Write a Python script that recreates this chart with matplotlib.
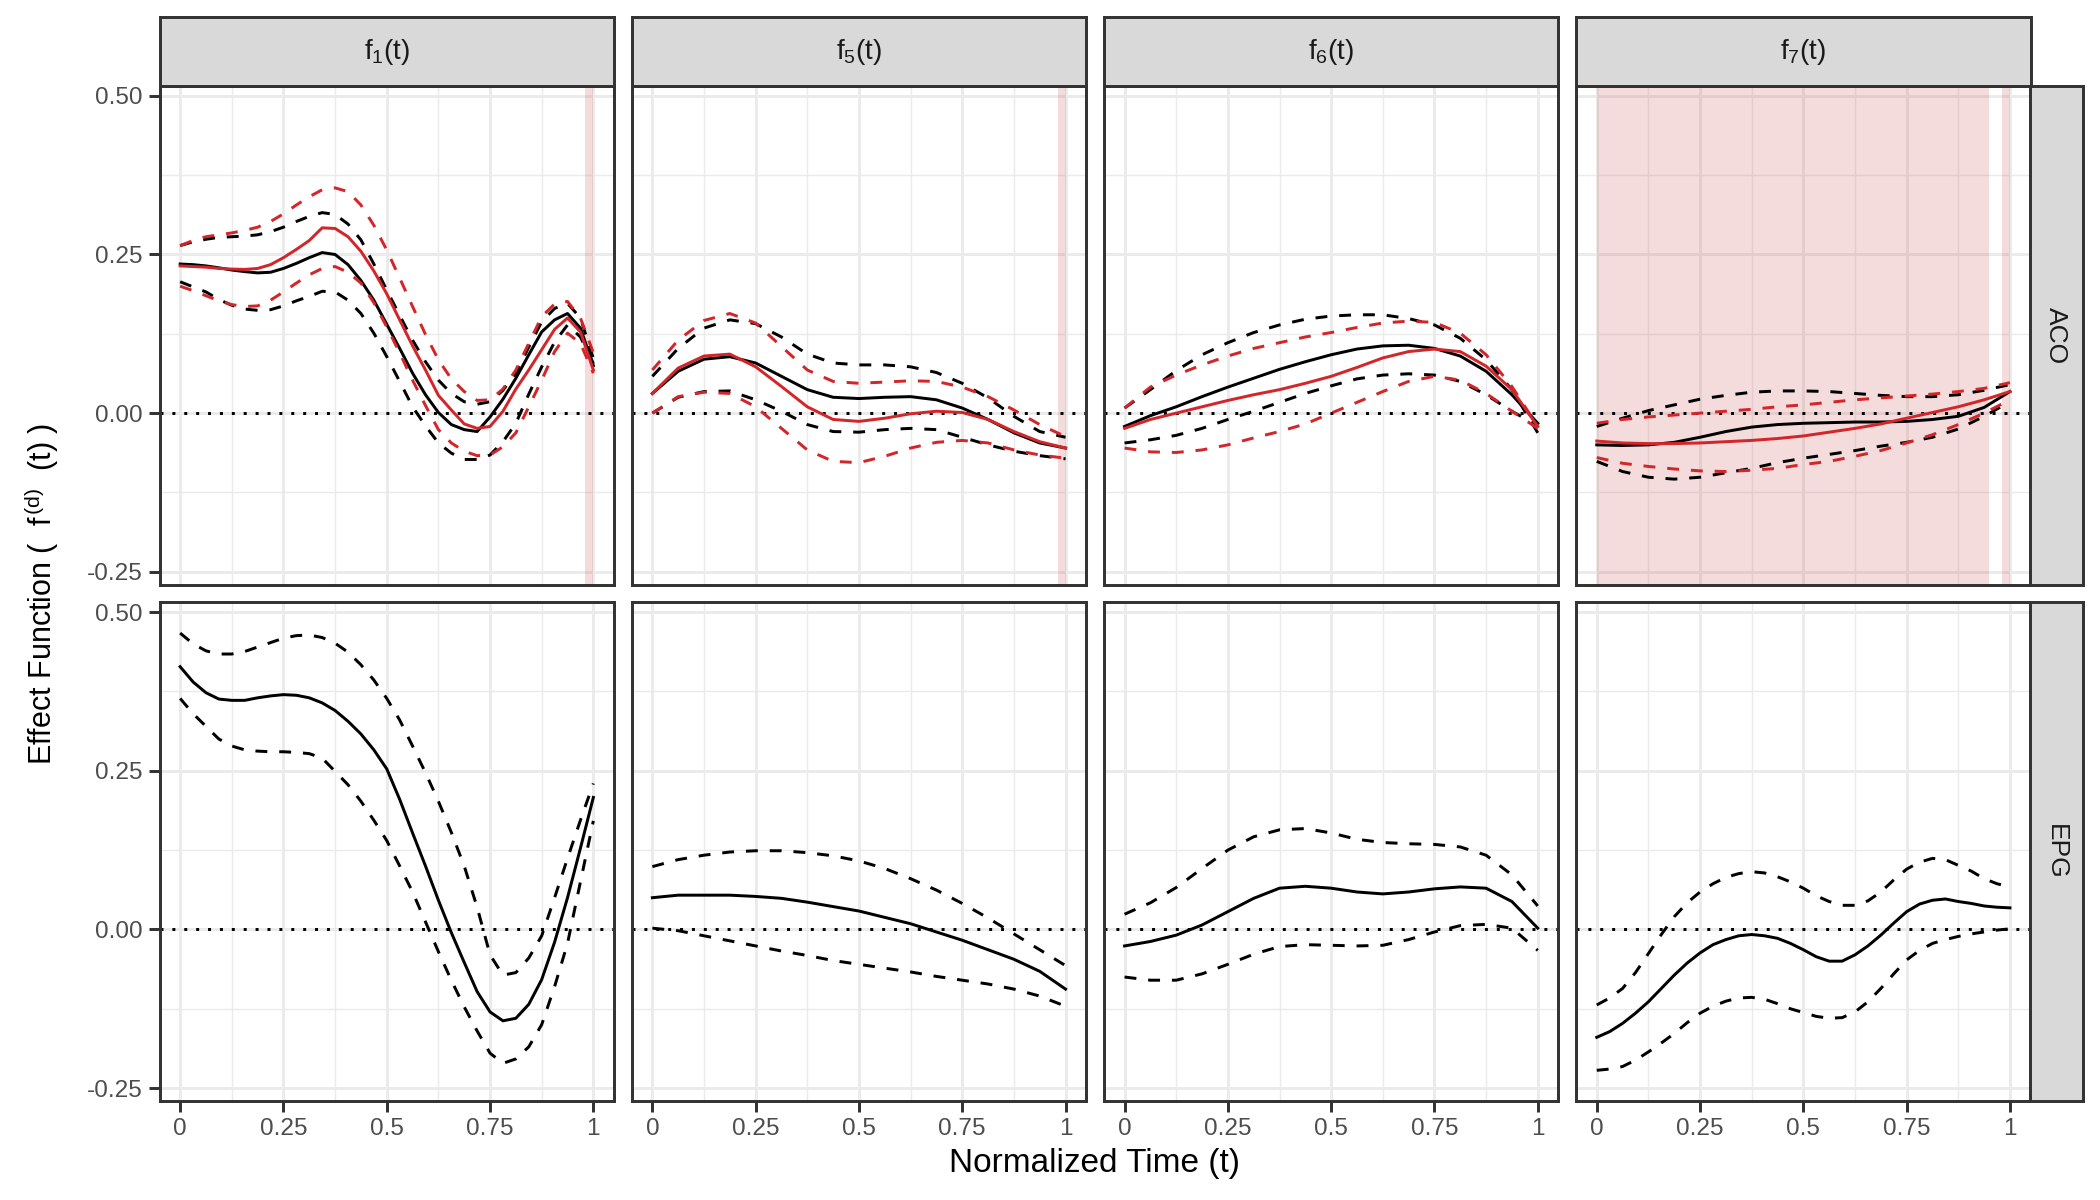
import matplotlib
matplotlib.use("Agg")
import matplotlib.pyplot as plt
import numpy as np

plt.rcParams['font.family'] = ['Liberation Sans', 'DejaVu Sans']
plt.rcParams['mathtext.fontset'] = 'custom'
plt.rcParams['mathtext.rm'] = 'Liberation Sans'
plt.rcParams['mathtext.it'] = 'Liberation Sans'

effects = ['f1', 'f5', 'f6', 'f7']
strip_labels = [r'$\mathregular{f_{1}(t)}$', r'$\mathregular{f_{5}(t)}$',
                r'$\mathregular{f_{6}(t)}$', r'$\mathregular{f_{7}(t)}$']
groups = ['ACO', 'EPG']

# curves are read on an even grid over t in [0, 1]
# (33 points for the wavy f1 / EPG f7 panels, 17 points elsewhere)

# ---- ACO row: black estimate and band, red estimate and band ----
aco_black = {
    'f1': [0.235, 0.234, 0.232, 0.229, 0.2255, 0.223, 0.221, 0.222, 0.228, 0.236, 0.245,
           0.253, 0.250, 0.234, 0.209, 0.178, 0.140, 0.102, 0.063, 0.029, 0.001, -0.018,
           -0.026, -0.029, -0.006, 0.022, 0.055, 0.092, 0.128, 0.147, 0.157, 0.134, 0.075],
    'f5': [0.031, 0.066, 0.085, 0.089, 0.079, 0.058, 0.037, 0.025, 0.023, 0.025, 0.026,
           0.021, 0.008, -0.010, -0.031, -0.047, -0.055],
    'f6': [-0.021, -0.004, 0.010, 0.026, 0.041, 0.055, 0.069, 0.081, 0.092, 0.101, 0.106,
           0.107, 0.102, 0.090, 0.066, 0.029, -0.016],
    'f7': [-0.050, -0.051, -0.050, -0.046, -0.038, -0.029, -0.022, -0.018, -0.016, -0.015,
           -0.014, -0.014, -0.013, -0.010, -0.005, 0.009, 0.034],
}
aco_black_hi = {
    'f1': [0.264, 0.270, 0.274, 0.277, 0.278, 0.279, 0.281, 0.286, 0.293, 0.302, 0.310,
           0.316, 0.313, 0.298, 0.273, 0.235, 0.194, 0.154, 0.115, 0.081, 0.052, 0.031,
           0.018, 0.014, 0.018, 0.036, 0.063, 0.104, 0.144, 0.165, 0.173, 0.150, 0.086],
    'f5': [0.058, 0.102, 0.134, 0.147, 0.141, 0.120, 0.093, 0.079, 0.076, 0.076, 0.073,
           0.064, 0.047, 0.024, -0.005, -0.029, -0.038],
    'f6': [0.008, 0.037, 0.067, 0.092, 0.111, 0.127, 0.139, 0.148, 0.153, 0.155, 0.155,
           0.149, 0.139, 0.118, 0.084, 0.037, -0.031],
    'f7': [-0.021, -0.008, 0.004, 0.013, 0.022, 0.028, 0.033, 0.035, 0.035, 0.034, 0.031,
           0.028, 0.026, 0.026, 0.029, 0.036, 0.045],
}
aco_black_lo = {
    'f1': [0.207, 0.199, 0.191, 0.179, 0.170, 0.164, 0.162, 0.163, 0.169, 0.177, 0.184,
           0.192, 0.191, 0.178, 0.157, 0.126, 0.089, 0.050, 0.010, -0.020, -0.047, -0.063,
           -0.073, -0.073, -0.066, -0.045, -0.016, 0.030, 0.073, 0.112, 0.139, 0.120, 0.078],
    'f5': [0.000, 0.025, 0.034, 0.035, 0.021, 0.003, -0.018, -0.029, -0.030, -0.026, -0.024,
           -0.026, -0.038, -0.050, -0.060, -0.067, -0.072],
    'f6': [-0.047, -0.042, -0.035, -0.024, -0.010, 0.003, 0.017, 0.031, 0.043, 0.054, 0.060,
           0.062, 0.060, 0.050, 0.029, 0.003, -0.020],
    'f7': [-0.076, -0.092, -0.101, -0.104, -0.101, -0.094, -0.087, -0.078, -0.071, -0.065,
           -0.059, -0.052, -0.046, -0.038, -0.025, -0.005, 0.018],
}
aco_red = {
    'f1': [0.232, 0.231, 0.230, 0.228, 0.227, 0.2265, 0.228, 0.234, 0.245, 0.258, 0.272,
           0.292, 0.291, 0.278, 0.255, 0.224, 0.188, 0.147, 0.106, 0.068, 0.028, 0.005,
           -0.017, -0.024, -0.021, 0.003, 0.038, 0.068, 0.100, 0.132, 0.150, 0.128, 0.068],
    'f5': [0.031, 0.071, 0.090, 0.093, 0.073, 0.042, 0.010, -0.010, -0.013, -0.008, -0.001,
           0.003, 0.001, -0.010, -0.029, -0.045, -0.055],
    'f6': [-0.024, -0.010, 0.000, 0.010, 0.020, 0.029, 0.037, 0.047, 0.058, 0.072, 0.087,
           0.097, 0.101, 0.097, 0.074, 0.037, -0.021],
    'f7': [-0.044, -0.047, -0.048, -0.048, -0.047, -0.045, -0.043, -0.040, -0.036, -0.030,
           -0.024, -0.017, -0.008, 0.001, 0.010, 0.021, 0.034],
}
aco_red_hi = {
    'f1': [0.264, 0.272, 0.278, 0.281, 0.284, 0.288, 0.293, 0.302, 0.314, 0.328, 0.341,
           0.352, 0.355, 0.349, 0.328, 0.296, 0.257, 0.213, 0.168, 0.124, 0.084, 0.054,
           0.034, 0.020, 0.021, 0.038, 0.068, 0.110, 0.152, 0.172, 0.176, 0.150, 0.095],
    'f5': [0.068, 0.115, 0.146, 0.157, 0.142, 0.105, 0.068, 0.050, 0.047, 0.049, 0.051,
           0.050, 0.041, 0.026, 0.005, -0.018, -0.037],
    'f6': [0.008, 0.041, 0.060, 0.076, 0.090, 0.102, 0.111, 0.120, 0.127, 0.135, 0.142,
           0.145, 0.143, 0.126, 0.092, 0.042, -0.021],
    'f7': [-0.016, -0.010, -0.006, -0.003, 0.000, 0.003, 0.006, 0.010, 0.013, 0.017, 0.021,
           0.024, 0.027, 0.030, 0.034, 0.039, 0.048],
}
aco_red_lo = {
    'f1': [0.200, 0.193, 0.185, 0.177, 0.171, 0.168, 0.169, 0.178, 0.191, 0.205, 0.218,
           0.228, 0.231, 0.222, 0.205, 0.174, 0.136, 0.095, 0.052, 0.012, -0.026, -0.047,
           -0.060, -0.067, -0.066, -0.053, -0.031, 0.010, 0.052, 0.097, 0.126, 0.110, 0.063],
    'f5': [0.000, 0.026, 0.033, 0.031, 0.010, -0.024, -0.058, -0.076, -0.078, -0.068, -0.055,
           -0.046, -0.043, -0.047, -0.058, -0.066, -0.071],
    'f6': [-0.055, -0.061, -0.062, -0.058, -0.050, -0.039, -0.029, -0.017, 0.000, 0.017, 0.034,
           0.050, 0.058, 0.052, 0.031, 0.003, -0.024],
    'f7': [-0.070, -0.079, -0.084, -0.088, -0.091, -0.092, -0.090, -0.087, -0.081, -0.076,
           -0.068, -0.059, -0.047, -0.034, -0.018, 0.000, 0.021],
}

# ---- EPG row: black estimate and band ----
epg_est = {
    'f1': [0.414, 0.390, 0.373, 0.363, 0.361, 0.361, 0.365, 0.368, 0.370, 0.369, 0.365,
           0.357, 0.345, 0.328, 0.308, 0.283, 0.253, 0.205, 0.152, 0.100, 0.046, -0.005,
           -0.052, -0.098, -0.130, -0.144, -0.140, -0.118, -0.079, -0.020, 0.050, 0.128, 0.208],
    'f5': [0.050, 0.054, 0.054, 0.054, 0.052, 0.049, 0.043, 0.036, 0.029, 0.019, 0.009,
           -0.004, -0.017, -0.032, -0.047, -0.066, -0.094],
    'f6': [-0.026, -0.019, -0.009, 0.007, 0.028, 0.049, 0.065, 0.068, 0.065, 0.059, 0.056,
           0.059, 0.064, 0.067, 0.065, 0.044, 0.002],
    'f7': [-0.170, -0.161, -0.148, -0.132, -0.114, -0.093, -0.072, -0.053, -0.037, -0.024,
           -0.016, -0.010, -0.008, -0.010, -0.014, -0.022, -0.032, -0.043, -0.050, -0.050,
           -0.040, -0.026, -0.009, 0.010, 0.028, 0.040, 0.046, 0.048, 0.044, 0.041, 0.037,
           0.035, 0.034],
}
epg_hi = {
    'f1': [0.467, 0.450, 0.439, 0.434, 0.434, 0.438, 0.445, 0.452, 0.459, 0.463, 0.464,
           0.460, 0.451, 0.437, 0.417, 0.393, 0.364, 0.330, 0.289, 0.247, 0.202, 0.153,
           0.100, 0.035, -0.040, -0.072, -0.068, -0.045, -0.010, 0.050, 0.112, 0.172, 0.230],
    'f5': [0.099, 0.110, 0.117, 0.122, 0.124, 0.124, 0.121, 0.116, 0.108, 0.096, 0.080,
           0.062, 0.041, 0.018, -0.007, -0.032, -0.057],
    'f6': [0.024, 0.042, 0.066, 0.096, 0.125, 0.146, 0.157, 0.159, 0.152, 0.142, 0.137,
           0.135, 0.134, 0.130, 0.117, 0.086, 0.037],
    'f7': [-0.119, -0.108, -0.093, -0.068, -0.038, -0.008, 0.020, 0.042, 0.059, 0.072,
           0.082, 0.088, 0.091, 0.089, 0.083, 0.075, 0.065, 0.053, 0.044, 0.038, 0.038,
           0.045, 0.059, 0.078, 0.095, 0.106, 0.112, 0.110, 0.101, 0.092, 0.080, 0.072,
           0.067],
}
epg_lo = {
    'f1': [0.364, 0.340, 0.320, 0.300, 0.289, 0.283, 0.281, 0.280, 0.280, 0.279, 0.277,
           0.270, 0.249, 0.228, 0.202, 0.172, 0.140, 0.100, 0.059, 0.012, -0.035, -0.080,
           -0.122, -0.160, -0.195, -0.211, -0.204, -0.185, -0.150, -0.090, -0.022, 0.075, 0.171],
    'f5': [0.002, -0.002, -0.010, -0.018, -0.026, -0.034, -0.041, -0.049, -0.055, -0.061,
           -0.067, -0.074, -0.080, -0.086, -0.094, -0.105, -0.121],
    'f6': [-0.075, -0.080, -0.080, -0.070, -0.055, -0.039, -0.027, -0.024, -0.025, -0.026,
           -0.025, -0.016, -0.004, 0.006, 0.008, 0.002, -0.033],
    'f7': [-0.222, -0.220, -0.216, -0.206, -0.193, -0.179, -0.164, -0.147, -0.132, -0.121,
           -0.113, -0.108, -0.107, -0.110, -0.117, -0.125, -0.131, -0.137, -0.140, -0.139,
           -0.130, -0.114, -0.093, -0.070, -0.048, -0.033, -0.022, -0.016, -0.011, -0.007,
           -0.004, -0.001, 0.001],
}

# highlighted time intervals (ACO row)
shaded = {
    'f1': [(0.980, 1.000)],
    'f5': [(0.982, 1.000)],
    'f6': [],
    'f7': [(0.000, 0.949), (0.980, 0.9995)],
}

RED = '#D3262A'
BORDER = '#333333'
GRID = '#EBEBEB'
TICKTXT = '#4D4D4D'
LW = 1.07
DASH = (0, (4, 4))


def draw(ax, vals, color, dashed, z):
    tt = np.linspace(0, 1, len(vals))
    ax.plot(tt, vals, color=color, lw=LW, ls=DASH if dashed else '-', zorder=z,
            solid_joinstyle='round', dash_joinstyle='round')


fig = plt.figure(figsize=(10.5, 6), dpi=200)

left0, pw, gap = 159.5 / 2100, 454.5 / 2100, 17.7 / 2100
row_bottom = [0.51267, 0.08242]
ph = 0.4155

for r, grp in enumerate(groups):
    for c, eff in enumerate(effects):
        x0 = left0 + c * (pw + gap)
        ax = fig.add_axes([x0, row_bottom[r], pw, ph])
        ax.set_xlim(-0.05, 1.05)
        ax.set_ylim(-0.2705, 0.5152)
        ax.set_xticks([0, 0.25, 0.5, 0.75, 1])
        ax.set_yticks([-0.25, 0, 0.25, 0.5])
        ax.set_xticks([0.125, 0.375, 0.625, 0.875], minor=True)
        ax.set_yticks([-0.125, 0.125, 0.375], minor=True)
        ax.grid(True, which='major', color=GRID, lw=LW)
        ax.grid(True, which='minor', color=GRID, lw=LW / 2)
        ax.set_axisbelow(True)
        ax.tick_params(which='minor', length=0)
        ax.tick_params(which='major', length=3.9, width=LW, color=BORDER,
                       labelsize=8.8, labelcolor=TICKTXT, pad=2.2)
        for s in ax.spines.values():
            s.set_color(BORDER)
            s.set_linewidth(LW)

        if r == 1:
            ax.set_xticklabels(['0', '0.25', '0.5', '0.75', '1'])
        else:
            ax.tick_params(axis='x', length=0, labelbottom=False)
        if c == 0:
            ax.set_yticklabels(['-0.25', '0.00', '0.25', '0.50'])
        else:
            ax.tick_params(axis='y', length=0, labelleft=False)

        ax.axhline(0, color='black', lw=LW, ls=(0, (1, 3)), zorder=2)

        if grp == 'ACO':
            for a, b in shaded[eff]:
                ax.axvspan(a, b, color='#C85050', alpha=0.2, lw=0, zorder=1.5)
            draw(ax, aco_black[eff], 'black', False, 3)
            draw(ax, aco_black_hi[eff], 'black', True, 3)
            draw(ax, aco_black_lo[eff], 'black', True, 3)
            draw(ax, aco_red[eff], RED, False, 4)
            draw(ax, aco_red_hi[eff], RED, True, 4)
            draw(ax, aco_red_lo[eff], RED, True, 4)
        else:
            draw(ax, epg_est[eff], 'black', False, 3)
            draw(ax, epg_hi[eff], 'black', True, 3)
            draw(ax, epg_lo[eff], 'black', True, 3)

        # top strips
        if r == 0:
            sax = fig.add_axes([x0, 0.92825, pw, 0.05742])
            sax.set_facecolor('#D9D9D9')
            sax.set_xticks([])
            sax.set_yticks([])
            for s in sax.spines.values():
                s.set_color(BORDER)
                s.set_linewidth(LW)
            sax.text(0.5, 0.5, strip_labels[c], ha='center', va='center',
                     fontsize=10, color='#1A1A1A', transform=sax.transAxes)

    # right strips
    rax = fig.add_axes([2029.9 / 2100, row_bottom[r], 52.6 / 2100, ph])
    rax.set_facecolor('#D9D9D9')
    rax.set_xticks([])
    rax.set_yticks([])
    for s in rax.spines.values():
        s.set_color(BORDER)
        s.set_linewidth(LW)
    rax.text(0.5, 0.5, grp, ha='center', va='center', rotation=-90,
             fontsize=9.5, color='#1A1A1A', transform=rax.transAxes)

fig.text(0.02, 0.5053, r'Effect Function (  $\mathregular{f^{\,(d)}}$  (t) )',
         rotation=90, ha='center', va='center', fontsize=11)
fig.text(0.5213, 0.0308, 'Normalized Time (t)', ha='center', va='center', fontsize=12)

fig.savefig('out.png', dpi=200)
